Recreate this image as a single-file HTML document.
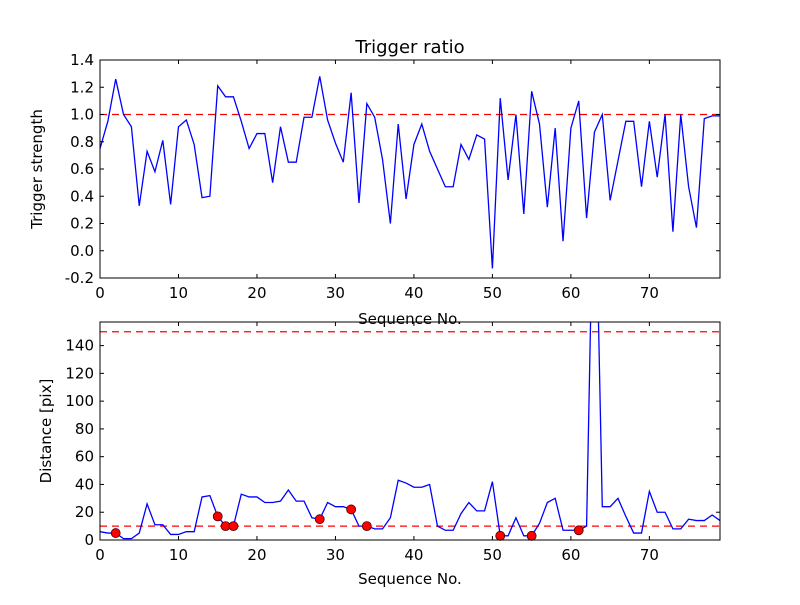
<!DOCTYPE html>
<html><head><meta charset="utf-8"><style>body{margin:0;background:#fff}svg text{font-family:"DejaVu Sans","Liberation Sans",sans-serif}</style></head>
<body>
<svg id="c" width="800" height="600" xmlns="http://www.w3.org/2000/svg"></svg>
<script>
const strength=[0.75,0.95,1.26,1.0,0.91,0.33,0.73,0.58,0.81,0.34,0.91,0.96,0.78,0.39,0.40,1.21,1.13,1.13,0.95,0.75,0.86,0.86,0.50,0.91,0.65,0.65,0.98,0.98,1.28,0.96,0.79,0.65,1.16,0.35,1.08,0.98,0.67,0.20,0.93,0.38,0.78,0.93,0.73,0.60,0.47,0.47,0.78,0.67,0.85,0.82,-0.13,1.12,0.52,1.0,0.27,1.17,0.93,0.32,0.90,0.07,0.90,1.10,0.24,0.87,1.0,0.37,0.66,0.95,0.95,0.47,0.95,0.54,1.0,0.14,1.0,0.47,0.17,0.97,0.99,0.99];
const distance=[6,5,5,1,1,5,26,11,11,4,4,6,6,31,32,17,10,10,33,31,31,27,27,28,36,28,28,16,15,27,24,24,22,10,10,8,8,16,43,41,38,38,40,10,7,7,19,27,21,21,42,3,3,16,3,3,12,27,30,7,7,7,10,300,24,24,30,17,5,5,35,20,20,8,8,15,14,14,18,14];
const markIdx=[2,15,16,17,28,32,34,51,55,61];
const topTicks=[-0.2,0.0,0.2,0.4,0.6,0.8,1.0,1.2,1.4];
const botTicks=[0,20,40,60,80,100,120,140];
const xTicks=[0,10,20,30,40,50,60,70];
const ns="http://www.w3.org/2000/svg",svg=document.getElementById('c');
function el(t,a,txt){const e=document.createElementNS(ns,t);for(const k in a)e.setAttribute(k,a[k]);if(txt!==undefined)e.textContent=txt;svg.appendChild(e);return e;}
const L=100,R=720;
const x=i=>L+(i/79)*(R-L);
const yT=v=>278-(v+0.2)/1.6*218;
const yB=v=>540-v/157*218;
const defs=el('defs',{});const cp=document.createElementNS(ns,'clipPath');cp.setAttribute('id','cb');const cr=document.createElementNS(ns,'rect');cr.setAttribute('x',L);cr.setAttribute('y',322);cr.setAttribute('width',R-L);cr.setAttribute('height',218);cp.appendChild(cr);defs.appendChild(cp);
function axes(top,bot,yf,ticks,fmt,name){
  for(const t of ticks){const yy=yf(t);
    let e=el('line',{x1:L,x2:L+4,y1:yy,y2:yy,stroke:'#000'});
    el('line',{x1:R,x2:R-4,y1:yy,y2:yy,stroke:'#000'});
    e=el('text',{x:L-6,y:yy+5,'text-anchor':'end','font-size':15},fmt(t));}
  for(const t of xTicks){const xx=x(t);
    el('line',{x1:xx,x2:xx,y1:bot,y2:bot-4,stroke:'#000'});el('line',{x1:xx,x2:xx,y1:top,y2:top+4,stroke:'#000'});
    const e=el('text',{x:xx,y:bot+20,'text-anchor':'middle','font-size':15},t);}
}
el('line',{x1:L,x2:R,y1:yT(1),y2:yT(1),stroke:'red','stroke-dasharray':'7,5','stroke-width':1.2,});
el('polyline',{points:strength.map((v,i)=>x(i)+','+yT(v)).join(' '),fill:'none',stroke:'blue','stroke-width':1.3,});
el('rect',{x:L,y:60,width:R-L,height:218,fill:'none',stroke:'#000',});
axes(60,278,yT,topTicks,v=>v.toFixed(1),'top');
el('text',{x:410,y:53,'text-anchor':'middle','font-size':18,},'Trigger ratio');
el('text',{x:410,y:324,'text-anchor':'middle','font-size':15,},'Sequence No.');
el('text',{x:0,y:0,'text-anchor':'middle','font-size':15,transform:'translate(42,169) rotate(-90)',},'Trigger strength');
el('line',{x1:L,x2:R,y1:yB(10),y2:yB(10),stroke:'red','stroke-dasharray':'7,5','stroke-width':1.2,});
el('line',{x1:L,x2:R,y1:yB(150),y2:yB(150),stroke:'red','stroke-dasharray':'7,5','stroke-width':1.2,});
el('polyline',{points:distance.map((v,i)=>x(i)+','+yB(v)).join(' '),fill:'none',stroke:'blue','stroke-width':1.3,'clip-path':'url(#cb)',});
for(const i of markIdx){const c=el('circle',{cx:x(i),cy:yB(distance[i]),r:4.5,fill:'red',stroke:'#400','stroke-width':0.8});
  }
el('rect',{x:L,y:322,width:R-L,height:218,fill:'none',stroke:'#000',});
axes(322,540,yB,botTicks,v=>v,'bottom');
el('text',{x:410,y:584,'text-anchor':'middle','font-size':15,},'Sequence No.');
el('text',{x:0,y:0,'text-anchor':'middle','font-size':15,transform:'translate(51,431) rotate(-90)',},'Distance [pix]');
</script>
</body></html>
